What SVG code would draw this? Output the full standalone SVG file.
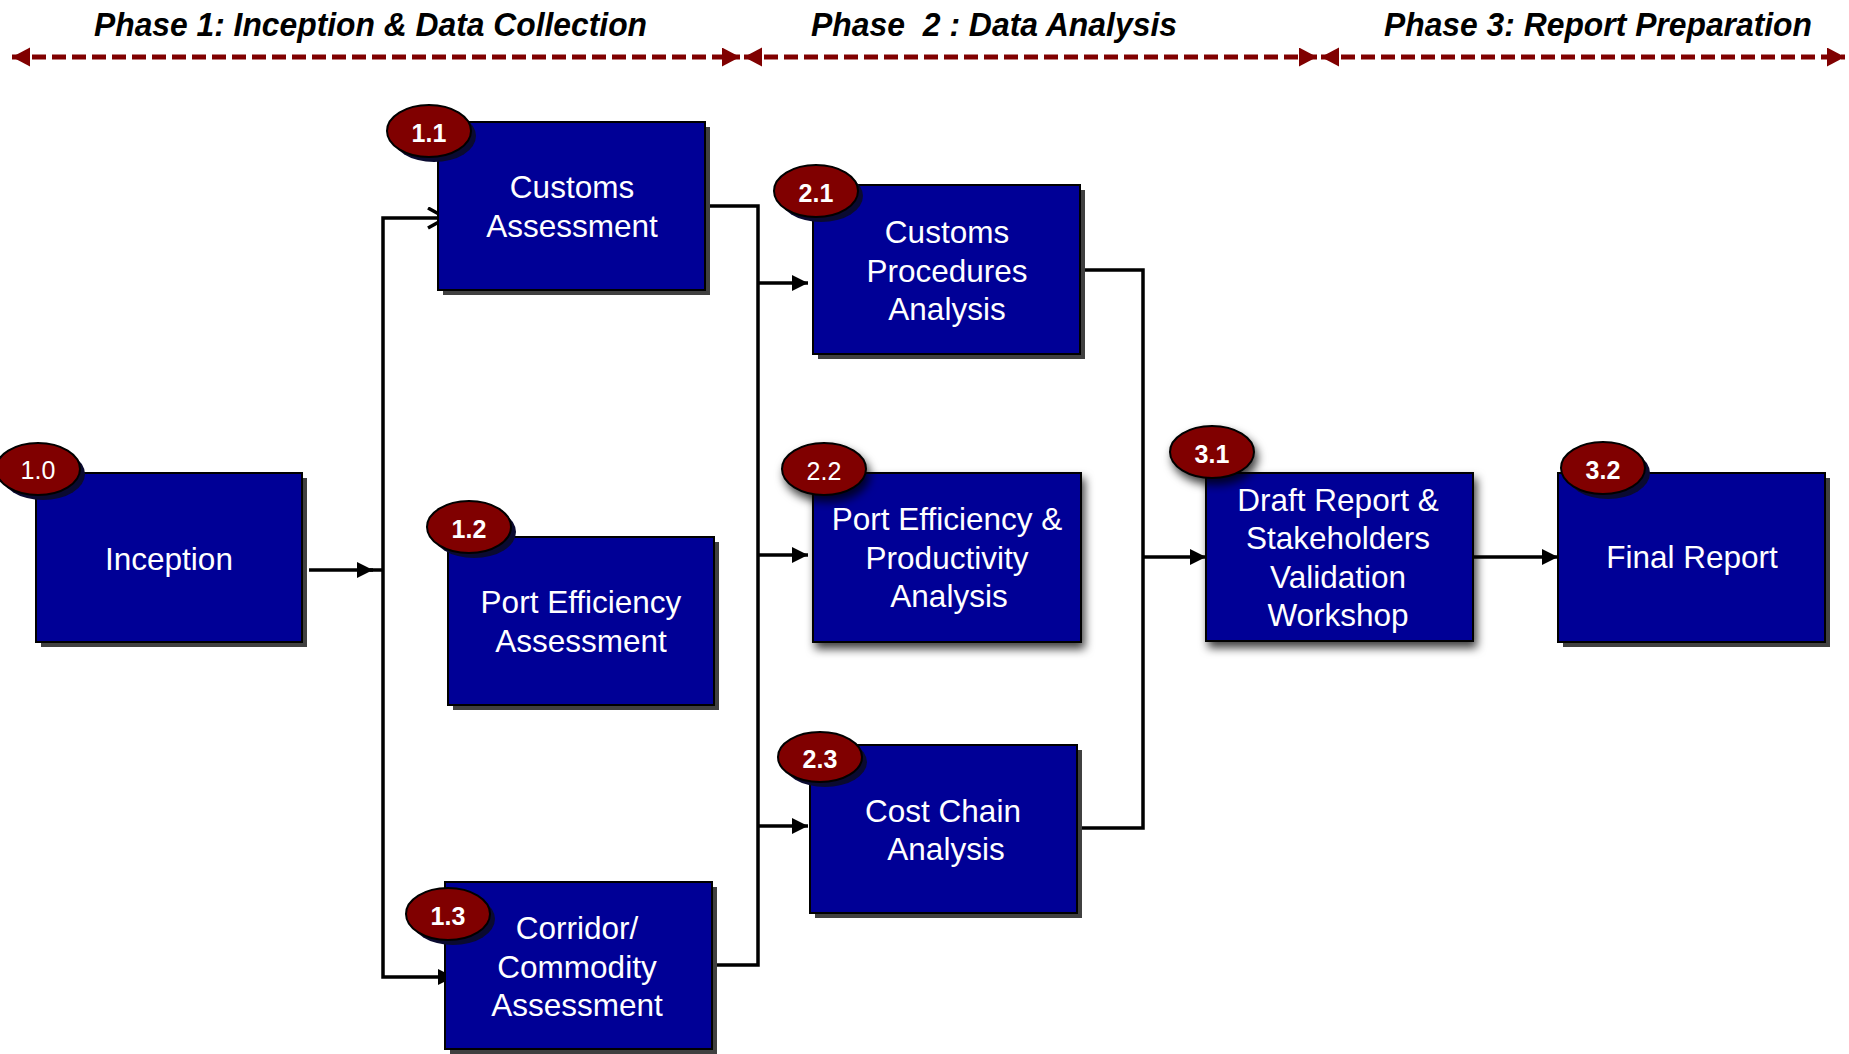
<svg xmlns="http://www.w3.org/2000/svg" width="1849" height="1054" viewBox="0 0 1849 1054">
<style>
.box{fill:#000096;stroke:#000;stroke-width:2}
.shd{fill:#404040}
.eshd{fill:#0a0a30}
.oval{fill:#800000;stroke:#000;stroke-width:2}
.lbl{font-family:"Liberation Sans",Arial,sans-serif;font-size:31.5px;fill:#fff;text-anchor:middle}
.num{font-family:"Liberation Sans",Arial,sans-serif;font-size:25px;font-weight:bold;fill:#fff;text-anchor:middle}
.numr{font-weight:normal}
.hdr{font-family:"Liberation Sans",Arial,sans-serif;font-size:34px;font-weight:bold;font-style:italic;fill:#000}
.con{fill:none;stroke:#000;stroke-width:3.5}
.phase{fill:none;stroke:#800000;stroke-width:5;stroke-dasharray:14 6}
</style>
<defs>
<marker id="ah" markerUnits="userSpaceOnUse" markerWidth="18" markerHeight="18" refX="16" refY="8" orient="auto">
<path d="M0,0 L16,8 L0,16 z" fill="#000"/>
</marker>
<marker id="chev" markerUnits="userSpaceOnUse" markerWidth="24" markerHeight="24" refX="20" refY="11" orient="auto">
<path d="M2,1 L20,11 L2,21" fill="none" stroke="#000" stroke-width="3.5"/>
</marker>
<marker id="ph" markerUnits="userSpaceOnUse" markerWidth="20" markerHeight="20" refX="18" refY="9.5" orient="auto-start-reverse">
<path d="M0,0 L18,9.5 L0,19 z" fill="#800000"/>
</marker>
<filter id="soft" x="-20%" y="-20%" width="140%" height="150%">
<feDropShadow dx="3" dy="6" stdDeviation="5" flood-color="#000" flood-opacity="0.75"/>
</filter>
</defs>

<g id="phases">
<text class="hdr" x="94" y="36" textLength="553" lengthAdjust="spacingAndGlyphs">Phase 1: Inception &amp; Data Collection</text>
<text class="hdr" x="811" y="36" textLength="366" lengthAdjust="spacingAndGlyphs" xml:space="preserve">Phase  2 : Data Analysis</text>
<text class="hdr" x="1384" y="36" textLength="428" lengthAdjust="spacingAndGlyphs">Phase 3: Report Preparation</text>
<path class="phase" d="M12,57 H740" marker-start="url(#ph)" marker-end="url(#ph)"/>
<path class="phase" d="M744,57 H1317" marker-start="url(#ph)" marker-end="url(#ph)"/>
<path class="phase" d="M1321,57 H1845" marker-start="url(#ph)" marker-end="url(#ph)"/>
</g>

<g id="connectors">
<path class="con" d="M309,570 H373" marker-end="url(#ah)"/>
<path class="con" d="M370,570 H383"/>
<path class="con" d="M383,570 V218 H446" marker-end="url(#chev)"/>
<path class="con" d="M383,570 V977 H454" marker-end="url(#ah)"/>
<path class="con" d="M705,206 H758 V965 H712"/>
<path class="con" d="M758,283 H808" marker-end="url(#ah)"/>
<path class="con" d="M758,555 H808" marker-end="url(#ah)"/>
<path class="con" d="M758,826 H808" marker-end="url(#ah)"/>
<path class="con" d="M1080,270 H1143 V828 H1077"/>
<path class="con" d="M1143,557 H1206" marker-end="url(#ah)"/>
<path class="con" d="M1473,557 H1558" marker-end="url(#ah)"/>
</g>

<g id="n1_0">
<rect class="shd" x="41" y="478" width="266" height="169"/>
<rect class="box" x="36" y="473" width="266" height="169"/>
<ellipse class="eshd" cx="43" cy="474" rx="42" ry="26"/>
<ellipse class="oval" cx="38" cy="469" rx="42" ry="26"/>
<text class="num numr" x="38" y="479">1.0</text>
<text class="lbl" x="169" y="570">Inception</text>
</g>

<g id="n1_1">
<rect class="shd" x="443" y="127" width="267" height="168"/>
<rect class="box" x="438" y="122" width="267" height="168"/>
<ellipse class="eshd" cx="434" cy="136" rx="42" ry="26"/>
<ellipse class="oval" cx="429" cy="131" rx="42" ry="26"/>
<text class="num" x="429" y="142">1.1</text>
<text class="lbl" x="572" y="198">Customs</text>
<text class="lbl" x="572" y="237">Assessment</text>
</g>

<g id="n1_2">
<rect class="shd" x="453" y="542" width="266" height="168"/>
<rect class="box" x="448" y="537" width="266" height="168"/>
<ellipse class="eshd" cx="474" cy="532" rx="42" ry="26"/>
<ellipse class="oval" cx="469" cy="527" rx="42" ry="26"/>
<text class="num" x="469" y="538">1.2</text>
<text class="lbl" x="581" y="613">Port Efficiency</text>
<text class="lbl" x="581" y="652">Assessment</text>
</g>

<g id="n1_3">
<rect class="shd" x="450" y="887" width="267" height="167"/>
<rect class="box" x="445" y="882" width="267" height="167"/>
<ellipse class="eshd" cx="453" cy="919" rx="42" ry="26"/>
<ellipse class="oval" cx="448" cy="914" rx="42" ry="26"/>
<text class="num" x="448" y="925">1.3</text>
<text class="lbl" x="577" y="939">Corridor/</text>
<text class="lbl" x="577" y="978">Commodity</text>
<text class="lbl" x="577" y="1016">Assessment</text>
</g>

<g id="n2_1">
<rect class="shd" x="818" y="190" width="267" height="169"/>
<rect class="box" x="813" y="185" width="267" height="169"/>
<ellipse class="eshd" cx="821" cy="196" rx="42" ry="26"/>
<ellipse class="oval" cx="816" cy="191" rx="42" ry="26"/>
<text class="num" x="816" y="202">2.1</text>
<text class="lbl" x="947" y="243">Customs</text>
<text class="lbl" x="947" y="282">Procedures</text>
<text class="lbl" x="947" y="320">Analysis</text>
</g>

<g id="n2_2">
<rect class="box" x="813" y="473" width="268" height="169" filter="url(#soft)"/>
<ellipse class="oval" cx="824" cy="469" rx="42" ry="26" filter="url(#soft)"/>
<text class="num numr" x="824" y="480">2.2</text>
<text class="lbl" x="947" y="530">Port Efficiency &amp;</text>
<text class="lbl" x="947" y="569">Productivity</text>
<text class="lbl" x="949" y="607">Analysis</text>
</g>

<g id="n2_3">
<rect class="shd" x="815" y="750" width="267" height="168"/>
<rect class="box" x="810" y="745" width="267" height="168"/>
<ellipse class="eshd" cx="825" cy="762" rx="42" ry="25"/>
<ellipse class="oval" cx="820" cy="757" rx="42" ry="25"/>
<text class="num" x="820" y="768">2.3</text>
<text class="lbl" x="943" y="822">Cost Chain</text>
<text class="lbl" x="946" y="860">Analysis</text>
</g>

<g id="n3_1">
<rect class="box" x="1206" y="473" width="267" height="168" filter="url(#soft)"/>
<ellipse class="oval" cx="1212" cy="452" rx="42" ry="26" filter="url(#soft)"/>
<text class="num" x="1212" y="463">3.1</text>
<text class="lbl" x="1338" y="511">Draft Report &amp;</text>
<text class="lbl" x="1338" y="549">Stakeholders</text>
<text class="lbl" x="1338" y="588">Validation</text>
<text class="lbl" x="1338" y="626">Workshop</text>
</g>

<g id="n3_2">
<rect class="shd" x="1563" y="478" width="267" height="169"/>
<rect class="box" x="1558" y="473" width="267" height="169"/>
<ellipse class="eshd" cx="1608" cy="473" rx="42" ry="26"/>
<ellipse class="oval" cx="1603" cy="468" rx="42" ry="26"/>
<text class="num" x="1603" y="479">3.2</text>
<text class="lbl" x="1692" y="568">Final Report</text>
</g>
</svg>
